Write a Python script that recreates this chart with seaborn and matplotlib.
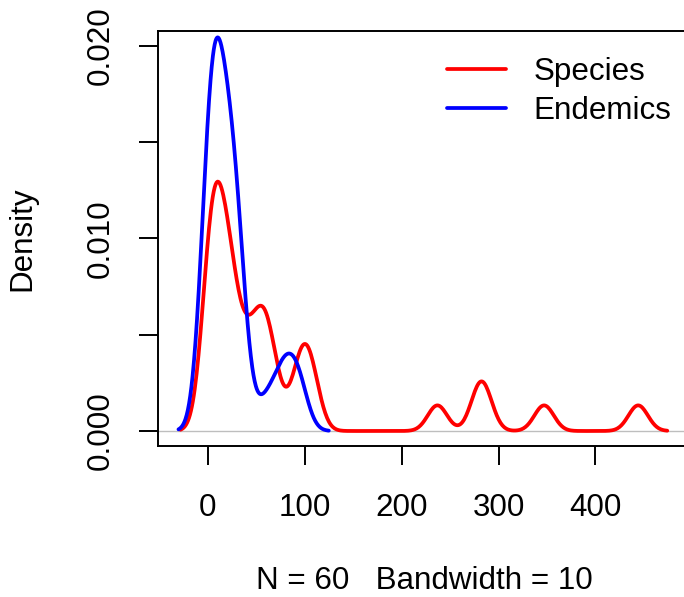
import numpy as np
import matplotlib
matplotlib.use("Agg")
import matplotlib.pyplot as plt
import seaborn as sns

# Number of plant species and of endemic species recorded on each island
species = [58, 31, 3, 25, 2, 18, 24, 10, 8, 2, 97, 93, 58, 5, 40, 347, 51, 2, 104, 108,
           12, 70, 280, 237, 444, 62, 285, 44, 16, 21]
endemics = [0, 0, 0, 0, 1, 3, 4, 6, 8, 9, 9, 12, 12, 13, 16, 18, 21, 22, 23, 26,
            28, 30, 32, 33, 34, 60, 75, 80, 90, 95]

series_names = ["Species", "Endemics"]
series_colors = ["#FF0000", "#0000FF"]
bandwidth = 10

x_ticks = [0, 100, 200, 300, 400]
y_ticks = [0.000, 0.005, 0.010, 0.015, 0.020]
y_tick_labels = ["0.000", "", "0.010", "", "0.020"]

sns.set_style("ticks")
plt.rcParams["font.family"] = ["Liberation Sans", "DejaVu Sans"]
plt.rcParams.update({"text.color": "black", "axes.labelcolor": "black",
                     "xtick.color": "black", "ytick.color": "black"})
FS = 22.6

fig = plt.figure(figsize=(6.84, 5.97), dpi=100)
ax = fig.add_axes([158.3 / 684, 1 - 446 / 597, (688.6 - 158.3) / 684, 415 / 597])

# zero reference line
ax.axhline(0, color="#BEBEBE", lw=1.0, zorder=1)

for data, name, col in zip([species, endemics], series_names, series_colors):
    arr = np.asarray(data, dtype=float)
    # gaussian kernel with a fixed bandwidth (bw_method is a factor of the sample sd)
    sns.kdeplot(x=arr, bw_method=bandwidth / np.std(arr, ddof=1), cut=3, gridsize=512,
                color=col, lw=2.7, label=name, ax=ax, zorder=3)

ax.set_xlim(-50.8, 496)
ax.set_ylim(-0.00078, 0.02078)

ax.set_xticks(x_ticks)
ax.set_xticklabels([str(t) for t in x_ticks])
ax.set_yticks(y_ticks)
ax.set_yticklabels(y_tick_labels)
ax.tick_params(axis="both", which="major", direction="out", length=13.7, width=1.4,
               color="black", labelsize=FS, labelcolor="black",
               bottom=True, left=True, top=False, right=False)
ax.tick_params(axis="x", pad=20.5)
ax.tick_params(axis="y", pad=17.0)
for lab in ax.get_yticklabels():
    lab.set_rotation(90)
    lab.set_va("center")

for sp in ax.spines.values():
    sp.set_visible(True)
    sp.set_color("black")
    sp.set_linewidth(1.4)

ax.set_xlabel("")
ax.set_ylabel("Density", fontsize=FS, color="black")
ax.yaxis.set_label_coords((37 - 158.3) / 530.3, 0.5)

fig.text(424 / 684, 1 - 596 / 597, f"N = 60   Bandwidth = {bandwidth}",
         ha="center", va="bottom", fontsize=FS, color="black")

ax.legend(loc="upper left", bbox_to_anchor=(446.7 / 684, 1 - 57 / 597),
          bbox_transform=fig.transFigure, frameon=False, fontsize=FS,
          handlelength=1.89, handletextpad=0.87, labelspacing=0.30,
          borderpad=0, borderaxespad=0, labelcolor="black")

fig.savefig("out.png", dpi=100)
